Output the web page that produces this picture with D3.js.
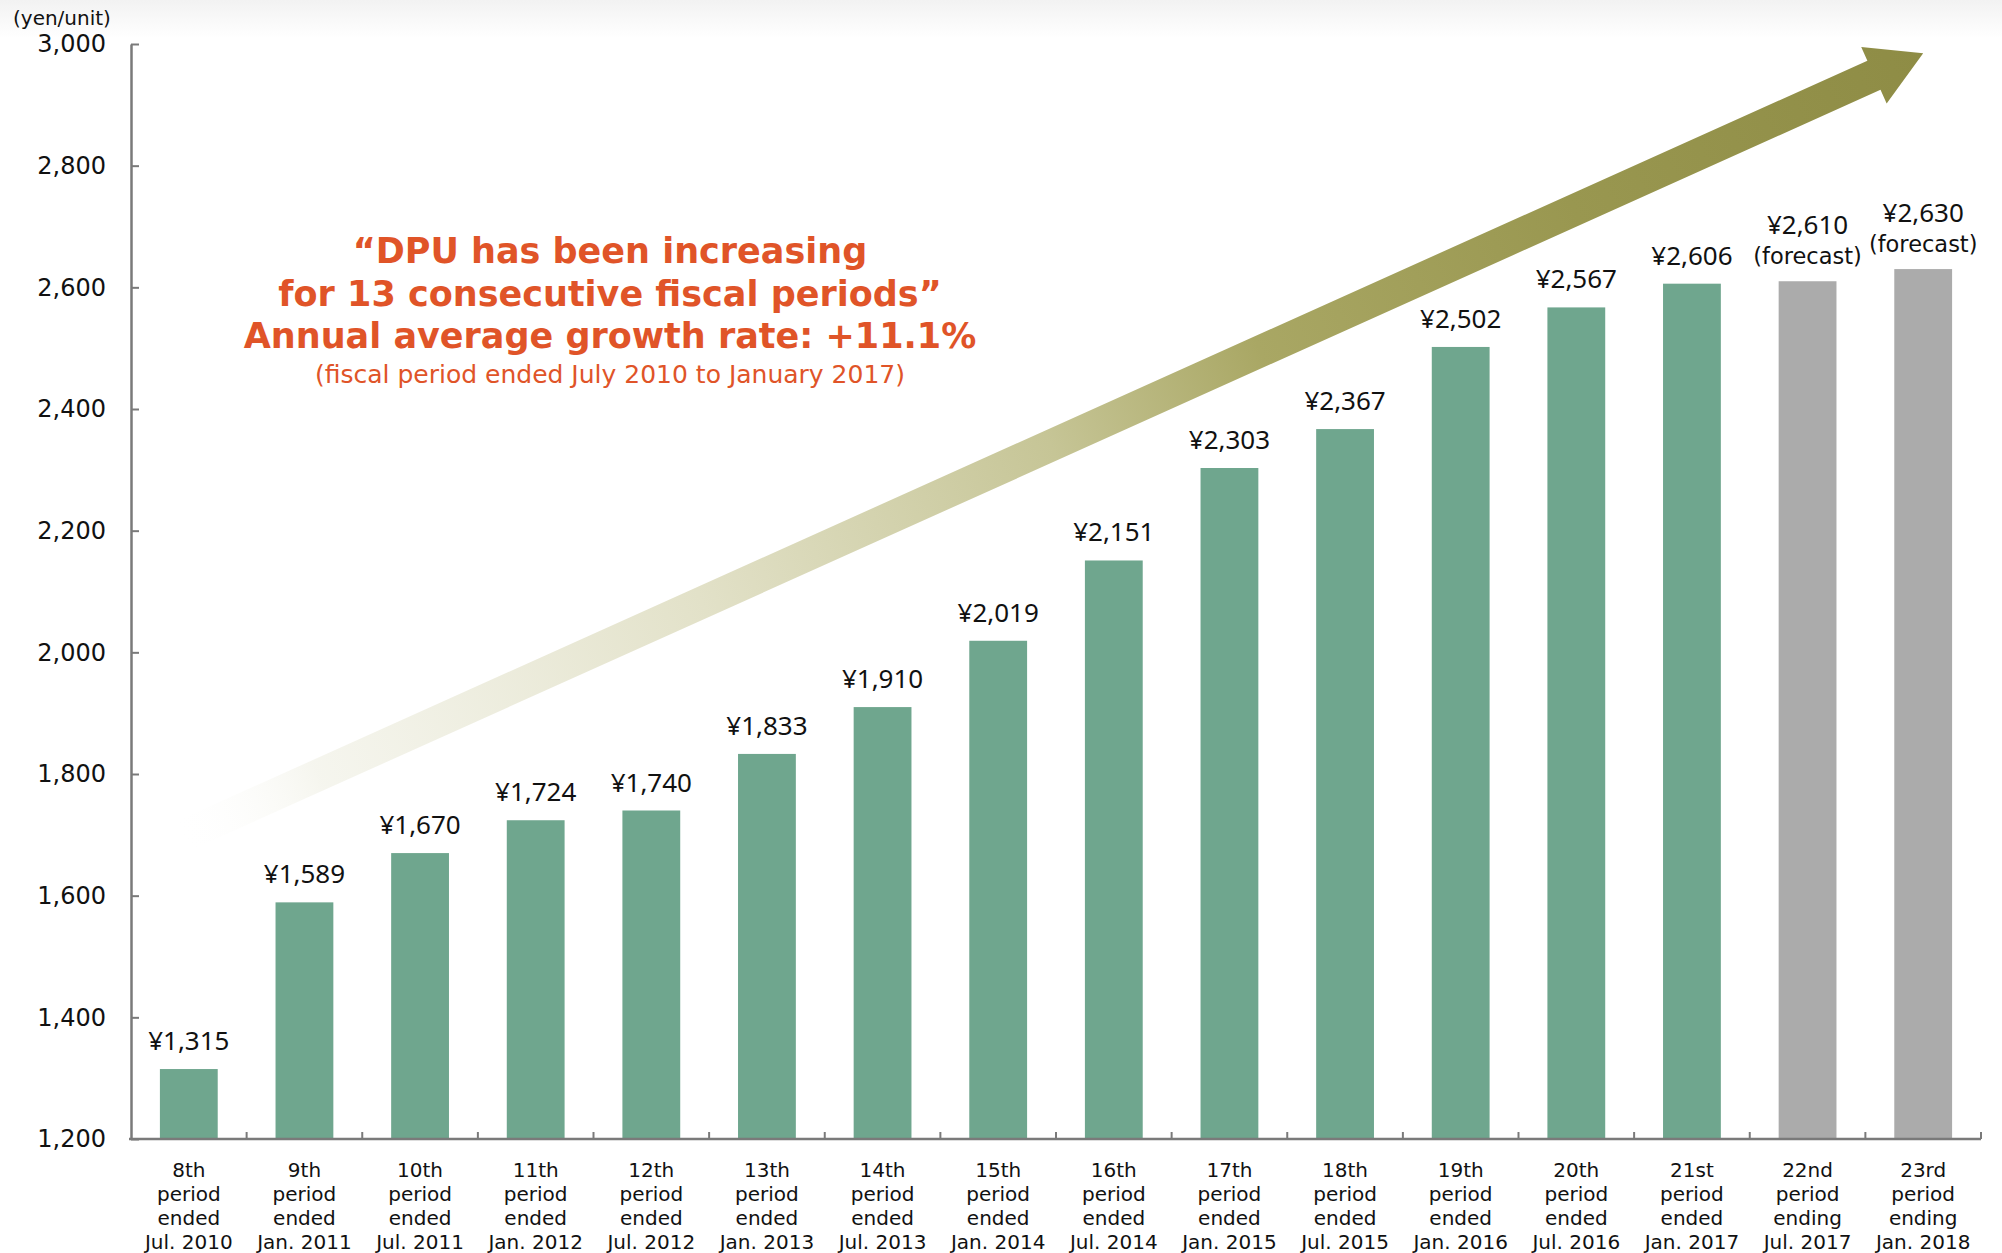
<!DOCTYPE html>
<html>
<head>
<meta charset="utf-8">
<script src="https://cdn.jsdelivr.net/npm/d3@7"></script>
<style>
  html, body { margin: 0; padding: 0; background: #ffffff; }
  svg { display: block; }
</style>
</head>
<body>
<svg id="chart" width="2002" height="1253"></svg>
<script>
// ---- data ----
const periods = ["8th","9th","10th","11th","12th","13th","14th","15th","16th","17th","18th","19th","20th","21st","22nd","23rd"];
const verbs = ["ended","ended","ended","ended","ended","ended","ended","ended","ended","ended","ended","ended","ended","ended","ending","ending"];
const periodEnds = ["Jul. 2010","Jan. 2011","Jul. 2011","Jan. 2012","Jul. 2012","Jan. 2013","Jul. 2013","Jan. 2014","Jul. 2014","Jan. 2015","Jul. 2015","Jan. 2016","Jul. 2016","Jan. 2017","Jul. 2017","Jan. 2018"];
const dpu = [1315,1589,1670,1724,1740,1833,1910,2019,2151,2303,2367,2502,2567,2606,2610,2630];
const forecast = [false,false,false,false,false,false,false,false,false,false,false,false,false,false,true,true];
const yTicks = [1200,1400,1600,1800,2000,2200,2400,2600,2800,3000];
const unitLabel = "(yen/unit)";
const headline = ["\u201cDPU has been increasing", "for 13 consecutive fiscal periods\u201d", "Annual average growth rate: +11.1%"];
const subline = "(fiscal period ended July 2010 to January 2017)";
// trend arrow annotation (category index, value)
const arrowFrom = {i: 0, v: 1695};
const arrowTo = {i: 15, v: 2985};

// ---- layout ----
const svg = d3.select("#chart");
const W = 2002, H = 1253;
const x = d3.scaleBand().domain(d3.range(periods.length)).range([131, 1981]).paddingInner(0.5).paddingOuter(0.25);
const y = d3.scaleLinear().domain([1200, 3000]).range([1139, 44]);
const GREEN = "#6fa68e", GRAY = "#ababab", ORANGE = "#e05428", AXIS = "#7a7a7a";

const defs = svg.append("defs");
const topGrad = defs.append("linearGradient").attr("id", "topGrad").attr("x1", 0).attr("y1", 0).attr("x2", 0).attr("y2", 1);
topGrad.append("stop").attr("offset", 0).attr("stop-color", "#f2f2f2");
topGrad.append("stop").attr("offset", 1).attr("stop-color", "#ffffff");
svg.append("rect").attr("x", 0).attr("y", 0).attr("width", W).attr("height", 38).attr("fill", "url(#topGrad)");

// ---- arrow ----
const cx = i => x(i) + x.bandwidth() / 2;
const T = [cx(arrowFrom.i) - 10, y(arrowFrom.v)];
const P = [cx(arrowTo.i), y(arrowTo.v)];
const dx = P[0] - T[0], dy = P[1] - T[1], L = Math.hypot(dx, dy);
const u = [dx / L, dy / L], n = [-u[1], u[0]];
const headLen = 54, shaftHW = 16, headHW = 31;
const B = [P[0] - u[0] * headLen, P[1] - u[1] * headLen];
const pt = (p, k, m) => [p[0] + n[0] * k + u[0] * m, p[1] + n[1] * k + u[1] * m];
const arrowPts = [
  pt(T, -shaftHW, 0), pt(B, -shaftHW, 0), pt(B, -headHW, 0), P,
  pt(B, headHW, 0), pt(B, shaftHW, 0), pt(T, shaftHW, 0)
];
const ag = defs.append("linearGradient").attr("id", "arrowGrad").attr("gradientUnits", "userSpaceOnUse")
  .attr("x1", T[0]).attr("y1", T[1]).attr("x2", P[0]).attr("y2", P[1]);
[[0, "#ffffff", 0], [0.08, "#f3f3ea", 0.8], [0.3, "#e2e1c8", 1], [0.5, "#c6c596", 1], [0.62, "#a9a764", 1], [0.8, "#999750", 1], [1, "#8e8c45", 1]]
  .forEach(([o, c, op]) => ag.append("stop").attr("offset", o).attr("stop-color", c).attr("stop-opacity", op));
svg.append("path").attr("d", d3.line()(arrowPts) + "Z").attr("fill", "url(#arrowGrad)");

// ---- bars ----
svg.append("g").selectAll("rect").data(dpu).join("rect")
  .attr("x", (d, i) => x(i)).attr("width", x.bandwidth())
  .attr("y", d => y(d)).attr("height", d => y(1200) - y(d))
  .attr("fill", (d, i) => forecast[i] ? GRAY : GREEN);

// value labels
const vl = svg.append("g").attr("text-anchor", "middle").attr("fill", "#111");
vl.selectAll("text.v").data(dpu).join("text").attr("class", "v")
  .attr("x", (d, i) => cx(i))
  .attr("y", (d, i) => y(d) - (forecast[i] ? 47 : 19))
  .attr("font-family", "'Noto Sans', sans-serif").attr("font-size", 26)
  .text(d => "\u00a5" + d3.format(",")(d));
vl.selectAll("text.f").data(dpu.filter((d, i) => forecast[i])).join("text").attr("class", "f")
  .attr("x", d => cx(dpu.indexOf(d)))
  .attr("y", d => y(d) - 17)
  .attr("font-family", "'DejaVu Sans', sans-serif").attr("font-size", 22.5)
  .text("(forecast)");

// ---- y axis ----
const yAxis = d3.axisLeft(y).tickValues(yTicks).tickFormat(d3.format(",")).tickSizeInner(-8).tickSizeOuter(0).tickPadding(25);
const gy = svg.append("g").attr("transform", `translate(${x.range()[0]},0)`).call(yAxis);
gy.select(".domain").attr("stroke", AXIS).attr("stroke-width", 2.5);
gy.selectAll(".tick line").attr("stroke", AXIS).attr("stroke-width", 2);
gy.selectAll(".tick text").attr("font-family", "'DejaVu Sans', sans-serif").attr("font-size", 24).attr("fill", "#111");

// ---- x axis ----
const gx = svg.append("g");
gx.append("line").attr("x1", x.range()[0] - 2).attr("x2", x.range()[1]).attr("y1", y(1200)).attr("y2", y(1200))
  .attr("stroke", AXIS).attr("stroke-width", 2.5);
gx.selectAll("line.t").data(d3.range(1, periods.length + 1)).join("line").attr("class", "t")
  .attr("x1", i => x.range()[0] + i * x.step()).attr("x2", i => x.range()[0] + i * x.step())
  .attr("y1", y(1200)).attr("y2", y(1200) - 7).attr("stroke", AXIS).attr("stroke-width", 2);
const xl = gx.append("g").attr("text-anchor", "middle").attr("font-family", "'DejaVu Sans', sans-serif").attr("font-size", 20).attr("fill", "#111");
periods.forEach((p, i) => {
  const t = xl.append("text").attr("x", cx(i)).attr("y", 1177);
  [p, "period", verbs[i], periodEnds[i]].forEach((s, k) => t.append("tspan").attr("x", cx(i)).attr("dy", k === 0 ? 0 : 24).text(s));
});

// unit label
svg.append("text").attr("x", 13).attr("y", 25).attr("font-family", "'DejaVu Sans', sans-serif").attr("font-size", 20).attr("fill", "#111").text(unitLabel);

// ---- headline ----
const hx = 610;
const hg = svg.append("g").attr("text-anchor", "middle").attr("fill", ORANGE).attr("font-family", "'DejaVu Sans', sans-serif");
headline.forEach((s, k) => hg.append("text").attr("x", hx).attr("y", 263 + k * 42.5).attr("font-size", 35).attr("font-weight", "bold").text(s));
hg.append("text").attr("x", hx).attr("y", 383).attr("font-size", 25).text(subline);
</script>
</body>
</html>
